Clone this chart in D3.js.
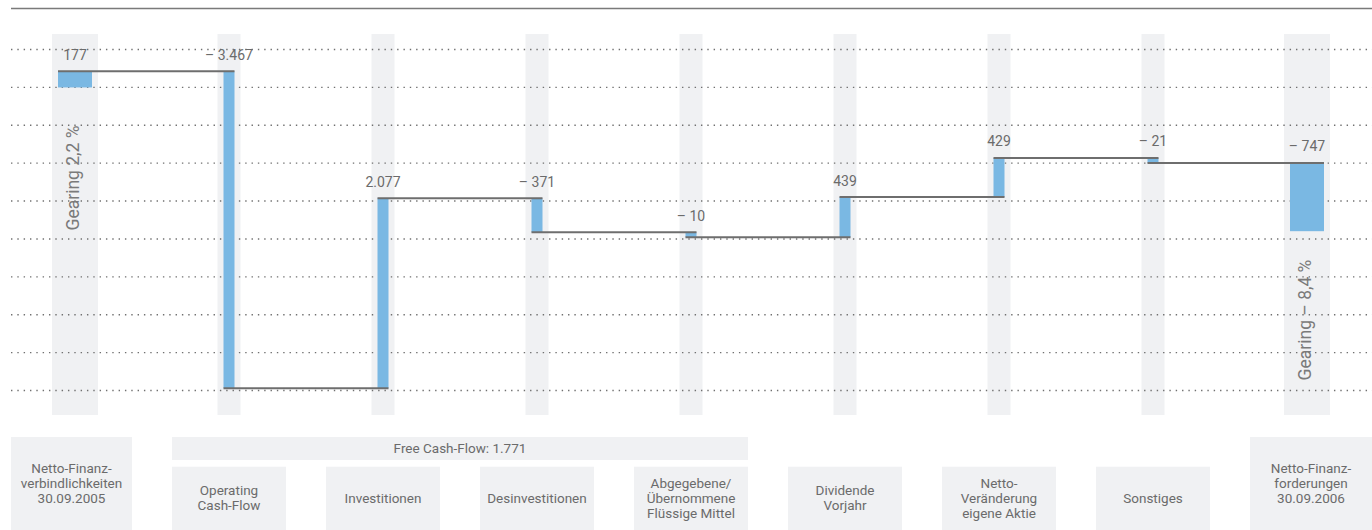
<!DOCTYPE html>
<html>
<head>
<meta charset="utf-8">
<script src="https://cdn.jsdelivr.net/npm/d3@7"></script>
<style>
  body { margin: 0; background: #fff; }
  svg { display: block; font-family: Roboto, "Open Sans", sans-serif; }
</style>
</head>
<body>
<svg id="chart" width="1372" height="530"></svg>
<script>
// data (Mio. EUR)
const categories = [
  ['Netto-Finanz-', 'verbindlichkeiten', '30.09.2005'],
  ['Operating', 'Cash-Flow'],
  ['Investitionen'],
  ['Desinvestitionen'],
  ['Abgegebene/', 'Übernommene', 'Flüssige Mittel'],
  ['Dividende', 'Vorjahr'],
  ['Netto-', 'Veränderung', 'eigene Aktie'],
  ['Sonstiges'],
  ['Netto-Finanz-', 'forderungen', '30.09.2006'],
];
const values = [177, -3467, 2077, -371, -10, 439, 429, -21, -747];
const gearing = [2.2, -8.4]; // first and last column
const freeCashFlow = 1771;
const freeCashFlowRange = [1, 4]; // category indexes under the bracket

const de = d3.formatLocale({ decimal: ',', thousands: '.', grouping: [3], currency: ['', ' €'], minus: '– ' });
const fmtInt = de.format(',d');
const fmtPct = de.format(',.1f');

const svg = d3.select('#chart');
const W = 1372;
const textColor = '#6b6b6b';
const lastIdx = values.length - 1;
const isEnd = i => i === 0 || i === lastIdx;

const x = d3.scalePoint().domain(d3.range(values.length)).range([75, 1307]);
const y = d3.scaleLinear().domain([415, -3315]).range([49.5, 390.5]);

const barW = i => isEnd(i) ? 34 : 11;
const bandW = i => isEnd(i) ? 46 : 23;

// running levels; tiny steps get a minimum visible height
const minBarPx = 5;
const unitsPerPx = Math.abs(y.invert(1) - y.invert(0));
let level = 0;
const steps = values.map((v, i) => {
  const start = level;
  const eff = Math.sign(v) * Math.max(Math.abs(v), minBarPx * unitsPerPx);
  level = start + eff;
  return { i, v, start, end: level };
});

// top rule
svg.append('line')
  .attr('x1', 11).attr('x2', W)
  .attr('y1', 8.5).attr('y2', 8.5)
  .attr('stroke', '#7a7a7a').attr('stroke-width', 1.3);

// column bands
svg.append('g').selectAll('rect')
  .data(steps).join('rect')
  .attr('x', d => x(d.i) - bandW(d.i) / 2)
  .attr('width', d => bandW(d.i))
  .attr('y', 34).attr('height', 381)
  .attr('fill', '#f0f1f3');

// dotted grid
const [gy0, gy1] = y.range();
svg.append('g').selectAll('line')
  .data(d3.range(10)).join('line')
  .attr('x1', 11).attr('x2', W)
  .attr('y1', k => gy0 + k * (gy1 - gy0) / 9)
  .attr('y2', k => gy0 + k * (gy1 - gy0) / 9)
  .attr('stroke', '#707070')
  .attr('stroke-width', 1.4)
  .attr('stroke-dasharray', '1.4 4.93');

// bars
svg.append('g').selectAll('rect')
  .data(steps).join('rect')
  .attr('x', d => x(d.i) - barW(d.i) / 2)
  .attr('width', d => barW(d.i))
  .attr('y', d => y(Math.max(d.start, d.end)))
  .attr('height', d => Math.abs(y(d.start) - y(d.end)))
  .attr('fill', '#7ab8e3');

// connectors
svg.append('g').selectAll('line')
  .data(steps.slice(0, -1)).join('line')
  .attr('x1', d => x(d.i) - barW(d.i) / 2)
  .attr('x2', d => x(d.i + 1) + barW(d.i + 1) / 2)
  .attr('y1', d => y(d.end)).attr('y2', d => y(d.end))
  .attr('stroke', '#6e6e6e').attr('stroke-width', 2);

// value labels
svg.append('g').selectAll('text')
  .data(steps).join('text')
  .attr('x', d => x(d.i))
  .attr('y', d => y(Math.max(d.start, d.end)) - 11.5)
  .attr('text-anchor', 'middle')
  .attr('font-size', 14)
  .attr('fill', textColor)
  .text(d => fmtInt(d.v));

// gearing labels
const gearingY = [178, 320];
svg.append('g').selectAll('text')
  .data(gearing).join('text')
  .attr('transform', (g, k) => `translate(${x(k ? lastIdx : 0) + 4},${gearingY[k]}) rotate(-90)`)
  .attr('text-anchor', 'middle')
  .attr('font-size', 17.5)
  .attr('fill', '#7a7a7a')
  .text(g => `Gearing ${fmtPct(g)} %`);

// category boxes
const boxTop = i => isEnd(i) ? 437 : 466.7;
const boxX0 = i => i === 0 ? 11 : x(i) - 57;
const boxX1 = i => i === lastIdx ? W : x(i) + 57;
const boxes = svg.append('g').selectAll('g')
  .data(categories).join('g');
boxes.append('rect')
  .attr('x', (c, i) => boxX0(i))
  .attr('width', (c, i) => boxX1(i) - boxX0(i))
  .attr('y', (c, i) => boxTop(i))
  .attr('height', (c, i) => 530 - boxTop(i))
  .attr('fill', '#f0f1f3');
boxes.append('text')
  .attr('text-anchor', 'middle')
  .attr('font-size', 13.5)
  .attr('fill', textColor)
  .each(function (lines, i) {
    const cx = (boxX0(i) + boxX1(i)) / 2;
    const cy = (boxTop(i) + 530) / 2;
    d3.select(this).selectAll('tspan')
      .data(lines).join('tspan')
      .attr('x', cx)
      .attr('y', (l, j) => cy + (j - (lines.length - 1) / 2) * 15 + 4.5)
      .text(l => l);
  });

// free cash-flow bracket
const fx0 = boxX0(freeCashFlowRange[0]);
const fx1 = boxX1(freeCashFlowRange[1]);
svg.append('rect')
  .attr('x', fx0).attr('width', fx1 - fx0)
  .attr('y', 437).attr('height', 23)
  .attr('fill', '#f0f1f3');
svg.append('text')
  .attr('x', (fx0 + fx1) / 2).attr('y', 453)
  .attr('text-anchor', 'middle')
  .attr('font-size', 13.5)
  .attr('fill', textColor)
  .text(`Free Cash-Flow: ${fmtInt(freeCashFlow)}`);
</script>
</body>
</html>
